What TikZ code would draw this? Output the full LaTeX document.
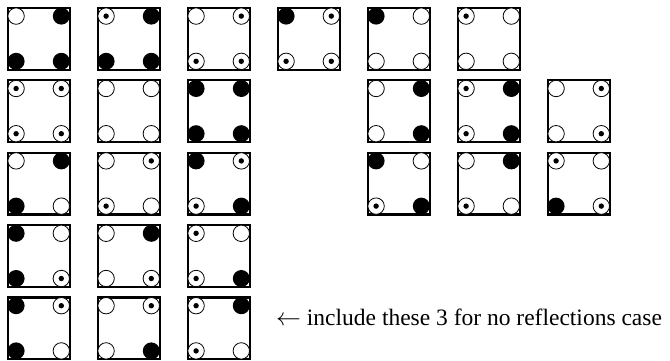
\documentclass[tikz,border=0pt]{standalone}
\usepackage{fontspec}
\setmainfont{Liberation Serif}
\begin{document}
\begin{tikzpicture}[x=1pt,y=-1pt,
  sqr/.style={draw=black,line width=2.2pt},
  circ/.style={draw=black,line width=0.8pt,fill=white},
  cE/.pic={\draw[circ] (0,0) circle[radius=8.2];},
  cF/.pic={\fill[black] (0,0) circle[radius=8.5];},
  cD/.pic={\draw[circ] (0,0) circle[radius=8.2]; \fill[black] (0,0) circle[radius=2.7];},
  lbl/.style={font=\fontsize{23.5}{28}\selectfont,inner sep=0pt,anchor=west}]
\useasboundingbox (0,0) rectangle (670,360);
\foreach \c/\r/\tl/\tr/\bl/\br in {
  1/1/E/F/F/F, 2/1/D/F/F/F, 3/1/E/D/D/D, 4/1/F/D/D/D, 5/1/F/E/E/E, 6/1/D/E/E/E,
  1/2/D/D/D/D, 2/2/E/E/E/E, 3/2/F/F/F/F, 5/2/E/F/E/F, 6/2/D/F/D/F, 7/2/E/D/E/D,
  1/3/E/F/F/E, 2/3/E/D/D/E, 3/3/F/D/D/F, 5/3/F/E/D/F, 6/3/E/F/D/E, 7/3/D/E/F/D,
  1/4/F/E/F/D, 2/4/E/F/E/D, 3/4/D/E/D/F,
  1/5/F/D/F/E, 2/5/E/D/E/F, 3/5/D/F/D/E}{
  \pgfmathsetmacro\L{6.7+90*(\c-1)}
  \pgfmathsetmacro\T{6.7+72.4*(\r-1)}
  \draw[sqr] (\L+1.1,\T+1.1) rectangle (\L+62.9,\T+62.9);
  \pic at (\L+9.4,\T+9.4) {c\tl};
  \pic at (\L+54.6,\T+9.4) {c\tr};
  \pic at (\L+9.4,\T+54.6) {c\bl};
  \pic at (\L+54.6,\T+54.6) {c\br};
}
\node[lbl] (note) at (276,317) {$\leftarrow$ include these 3 for no reflections case};
\end{tikzpicture}
\end{document}
